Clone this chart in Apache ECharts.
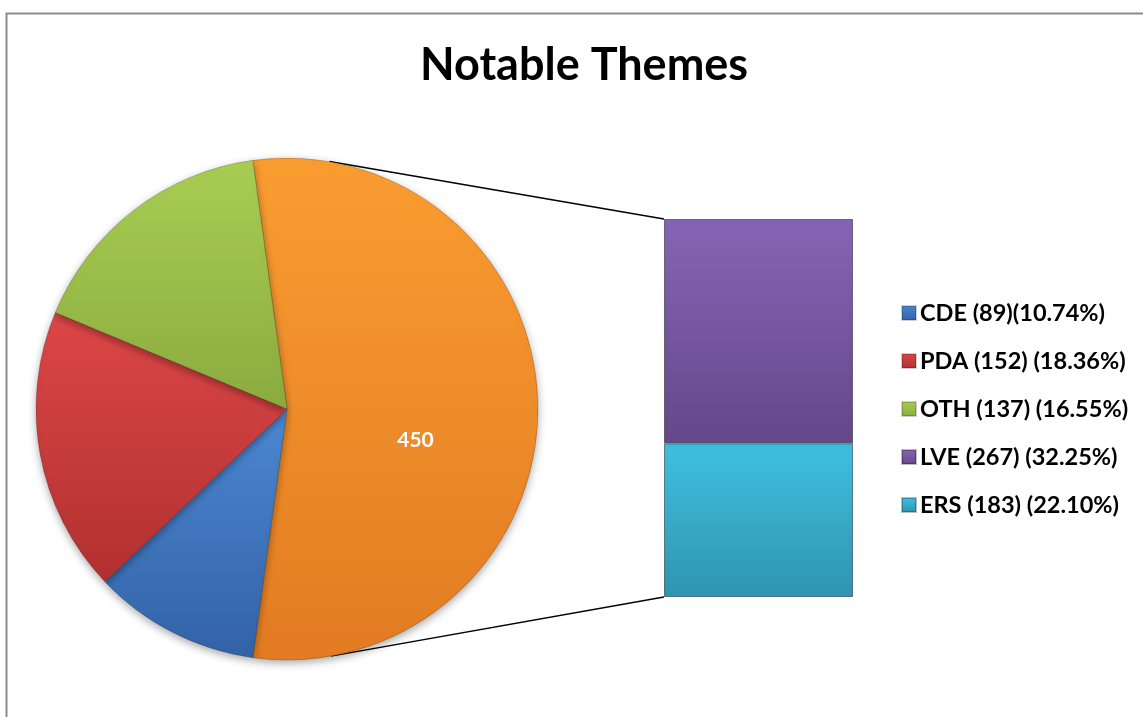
<!DOCTYPE html>
<html>
<head>
<meta charset="utf-8">
<script src="https://cdn.jsdelivr.net/npm/echarts@6/dist/echarts.min.js"></script>
<style>html,body{margin:0;padding:0;background:#fff}#c{width:1143px;height:717px}</style>
</head>
<body>
<div id="c"></div>
<script>
// ---- data ----
const titleText = 'Notable Themes';
const pieNames = ['Other', 'CDE', 'PDA', 'OTH'];
const pieValues = [450, 89, 152, 137];
const barNames = ['ERS', 'LVE'];
const barValues = [183, 267];
const legendNames = ['CDE', 'PDA', 'OTH', 'LVE', 'ERS'];
const legendLabels = ['CDE (89)(10.74%)', 'PDA (152) (18.36%)', 'OTH (137) (16.55%)', 'LVE (267) (32.25%)', 'ERS (183) (22.10%)'];

// ---- styles ----
function grad(c1, c2) {
  return new echarts.graphic.LinearGradient(0, 0, 0, 1, [{offset: 0, color: c1}, {offset: 1, color: c2}]);
}
const pieColors = {
  Other: ['#fa9d31', '#e27b22'],
  CDE: ['#4b88d2', '#3362a6'],
  PDA: ['#dc4747', '#b23030'],
  OTH: ['#a9cd53', '#8bab3f']
};
const barColors = {
  LVE: ['#8764b6', '#644889'],
  ERS: ['#40c0e0', '#2f94b1']
};
const cx = 287, cy = 409, R = 251;
const gridBox = {left: 664, top: 219, width: 189, height: 378};
const total = pieValues.reduce((a, b) => a + b, 0);
const startAngle = (pieValues[0] / total) * 180;

const chart = echarts.init(document.getElementById('c'), null, {renderer: 'canvas'});
const option = {
  animation: false,
  title: {
    text: titleText, left: 415, top: 38,
    textStyle: {fontFamily: 'Lato', fontWeight: 'bold', fontSize: 45, color: '#000'}
  },
  legend: {
    orient: 'vertical', left: 896, top: 296,
    itemWidth: 14, itemHeight: 14, itemGap: 24, icon: 'rect',
    data: legendNames,
    formatter: name => legendLabels[legendNames.indexOf(name)],
    textStyle: {fontFamily: 'Lato', fontWeight: 'bold', fontSize: 23.5, lineHeight: 23, color: '#000', padding: [0, 0, 0, -1]},
    selectedMode: false
  },
  grid: {left: gridBox.left, top: gridBox.top, width: gridBox.width, height: gridBox.height},
  xAxis: {type: 'category', data: ['Other'], show: false},
  yAxis: {type: 'value', min: 0, max: pieValues[0], show: false},
  series: [
    {
      type: 'pie', center: [cx, cy], radius: R, startAngle: startAngle, clockwise: true,
      avoidLabelOverlap: false, legendHoverLink: false, silent: true,
      data: pieNames.map((n, i) => ({
        name: n, value: pieValues[i],
        itemStyle: {color: grad(pieColors[n][0], pieColors[n][1])},
        label: i === 0 ? {show: true, position: 'inside', formatter: '{c}', offset: [0, 31],
          color: '#fff', fontFamily: 'Lato', fontWeight: 'bold', fontSize: 21} : {show: false}
      })),
      itemStyle: {borderColor: 'rgba(0,0,0,0.18)', borderWidth: 1,
        shadowBlur: 8, shadowColor: 'rgba(0,0,0,0.35)', shadowOffsetY: 3},
      labelLine: {show: false}
    },
    ...barNames.map((n, i) => ({
      type: 'bar', name: n, stack: 'other', barWidth: '100%', silent: true,
      data: [barValues[i]],
      itemStyle: {color: grad(barColors[n][0], barColors[n][1]),
        borderColor: 'rgba(0,0,0,0.25)', borderWidth: 1,
        shadowBlur: 6, shadowColor: 'rgba(0,0,0,0.3)', shadowOffsetY: 3}
    }))
  ]
};
chart.setOption(option);

// connector lines: tangents from bar corners to the pie circle
const topPt = [gridBox.left, chart.convertToPixel({gridIndex: 0}, [0, pieValues[0]])[1]];
const botPt = [gridBox.left, chart.convertToPixel({gridIndex: 0}, [0, 0])[1]];
function tangent(P, sign) {
  const dx = P[0] - cx, dy = P[1] - cy;
  const d = Math.sqrt(dx * dx + dy * dy);
  const th = Math.atan2(dy, dx);
  const a = Math.acos(R / d);
  const ang = th + sign * a;
  return [cx + R * Math.cos(ang), cy + R * Math.sin(ang)];
}
const t1 = tangent(topPt, -1), t2 = tangent(botPt, 1);
chart.setOption({
  graphic: [
    {type: 'rect', shape: {x: 6.5, y: 13.5, width: 1300, height: 900}, style: {fill: 'none', stroke: '#8a8a8a', lineWidth: 2}, z: 0, silent: true},
    {type: 'line', shape: {x1: t1[0], y1: t1[1], x2: topPt[0], y2: topPt[1]}, style: {stroke: '#000', lineWidth: 1.5}, z: 1, silent: true},
    {type: 'line', shape: {x1: t2[0], y1: t2[1], x2: botPt[0], y2: botPt[1]}, style: {stroke: '#000', lineWidth: 1.5}, z: 1, silent: true}
  ]
});
</script>
</body>
</html>
